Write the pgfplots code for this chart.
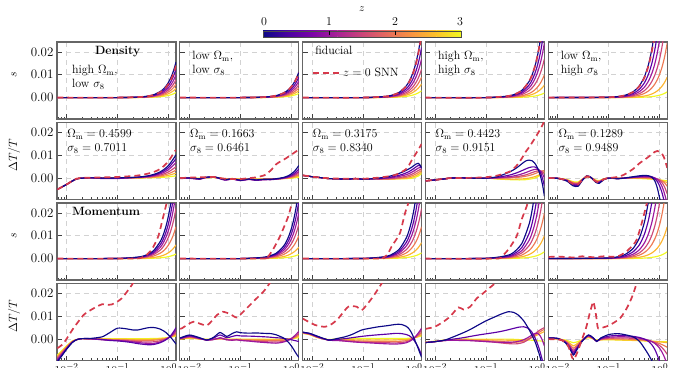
\documentclass[border=0pt]{standalone}
\usepackage{pgfplots}
\usepackage{pgfplotstable}
\pgfplotsset{compat=1.18}

\definecolor{c0}{RGB}{13,8,135}
\definecolor{c1}{RGB}{92,1,166}
\definecolor{c2}{RGB}{156,23,158}
\definecolor{c3}{RGB}{204,71,120}
\definecolor{c4}{RGB}{237,121,83}
\definecolor{c5}{RGB}{253,180,47}
\definecolor{c6}{RGB}{240,249,33}
\definecolor{p0}{RGB}{13,8,135}
\definecolor{p1}{RGB}{75,3,161}
\definecolor{p2}{RGB}{125,3,168}
\definecolor{p3}{RGB}{168,34,150}
\definecolor{p4}{RGB}{203,70,121}
\definecolor{p5}{RGB}{229,107,93}
\definecolor{p6}{RGB}{248,148,65}
\definecolor{p7}{RGB}{253,195,40}
\definecolor{p8}{RGB}{240,249,33}
\definecolor{snnred}{RGB}{214,57,75}
\newcommand\fs{\fontsize{12}{14}\selectfont}
\newcommand\xlab{$10^{\pgfmathparse{int(round(\tick/ln(10)))}\pgfmathresult}$}
\tikzset{zl/.style={line width=1.15pt, smooth, tension=0.4},
  snn/.style={color=snnred, line width=1.7pt, dash pattern=on 6pt off 4pt, smooth, tension=0.4}}
\pgfplotsset{legend image code/.code={\draw[#1] (0pt,0pt) -- (27pt,0pt);}}

\newcommand\bpanel[1]{\begin{axis}[
    scale only axis, width=119pt, height=77pt, anchor=north west,
    xmode=log, xmin=0.0065, xmax=1.4,
    ymin=-0.0094, ymax=0.0244,
    ytick={0,0.01,0.02}, yticklabels={}, xticklabels={},
    tick align=inside, xtick pos=left, ytick pos=left,
    major tick length=5pt, minor tick length=2.5pt,
    every tick/.style={black!75, line width=0.7pt},
    grid=major, major grid style={gray!35, dash pattern=on 5pt off 4pt, line width=0.7pt},
    axis line style={black!60, line width=1.1pt},
    no markers, clip=true, scaled y ticks=false,
    tick label style={font=\fontsize{13}{15}\selectfont},
    ylabel style={at={(axis description cs:-0.36,0.58)}, anchor=center, font=\fs},
    #1]}
\newcommand\fan[1]{%
  \addplot[c6,zl] table[y=g]{#1};
  \addplot[c5,zl] table[y=f]{#1};
  \addplot[c4,zl] table[y=e]{#1};
  \addplot[c3,zl] table[y=d]{#1};
  \addplot[c2,zl] table[y=c]{#1};
  \addplot[c1,zl] table[y=b]{#1};
  \addplot[c0,zl] table[y=a]{#1};}

% ---------- Row 1: density, s ----------
\pgfplotstableread{
x a b c d e f g r
0.0066 0 0 0 0 0 0 0 0
0.1 0 0 0 0 0 0 0 0
0.3 0.33e-3 0.27e-3 0.21e-3 0.17e-3 0.12e-3 0.09e-3 0.05e-3 0.30e-3
0.5 1.19e-3 0.95e-3 0.76e-3 0.59e-3 0.44e-3 0.30e-3 0.17e-3 1.07e-3
0.7 2.76e-3 2.21e-3 1.77e-3 1.38e-3 1.03e-3 0.71e-3 0.39e-3 2.48e-3
0.8 3.85e-3 3.09e-3 2.47e-3 1.93e-3 1.43e-3 0.99e-3 0.54e-3 3.46e-3
0.9 5.17e-3 4.14e-3 3.31e-3 2.58e-3 1.92e-3 1.33e-3 0.73e-3 4.64e-3
1.0 6.73e-3 5.39e-3 4.31e-3 3.36e-3 2.50e-3 1.72e-3 0.95e-3 6.04e-3
1.1 8.54e-3 6.84e-3 5.47e-3 4.27e-3 3.17e-3 2.19e-3 1.20e-3 7.66e-3
1.2 10.61e-3 8.50e-3 6.80e-3 5.31e-3 3.95e-3 2.72e-3 1.50e-3 9.52e-3
1.3 12.96e-3 10.39e-3 8.31e-3 6.48e-3 4.82e-3 3.32e-3 1.83e-3 11.63e-3
1.4 15.6e-3 12.5e-3 10.0e-3 7.8e-3 5.8e-3 4.0e-3 2.2e-3 14.0e-3
}\tsA
\pgfplotstableread{
x a b c d e f g r
0.0066 0 0 0 0 0 0 0 0
0.1 0 0 0 0 0 0 0 0
0.3 0.24e-3 0.19e-3 0.15e-3 0.12e-3 0.09e-3 0.06e-3 0.04e-3 0.23e-3
0.5 0.85e-3 0.69e-3 0.55e-3 0.43e-3 0.32e-3 0.23e-3 0.14e-3 0.84e-3
0.7 1.98e-3 1.59e-3 1.27e-3 0.99e-3 0.74e-3 0.53e-3 0.32e-3 1.94e-3
0.8 2.76e-3 2.22e-3 1.78e-3 1.38e-3 1.04e-3 0.74e-3 0.44e-3 2.71e-3
0.9 3.71e-3 2.98e-3 2.39e-3 1.86e-3 1.39e-3 0.99e-3 0.60e-3 3.65e-3
1.0 4.83e-3 3.88e-3 3.10e-3 2.41e-3 1.81e-3 1.29e-3 0.78e-3 4.74e-3
1.1 6.13e-3 4.92e-3 3.94e-3 3.06e-3 2.30e-3 1.64e-3 0.98e-3 6.02e-3
1.2 7.62e-3 6.12e-3 4.90e-3 3.81e-3 2.86e-3 2.04e-3 1.22e-3 7.48e-3
1.3 9.30e-3 7.48e-3 5.98e-3 4.65e-3 3.49e-3 2.49e-3 1.50e-3 9.14e-3
1.4 11.2e-3 9.0e-3 7.2e-3 5.6e-3 4.2e-3 3.0e-3 1.8e-3 11.0e-3
}\tsB
\pgfplotstableread{
x a b c d e f g r
0.0066 0 0 0 0 0 0 0 0
0.1 0 0 0 0 0 0 0 0
0.3 0.62e-3 0.47e-3 0.36e-3 0.27e-3 0.19e-3 0.13e-3 0.06e-3 0.60e-3
0.5 2.21e-3 1.68e-3 1.30e-3 0.95e-3 0.69e-3 0.46e-3 0.23e-3 2.13e-3
0.7 5.13e-3 3.89e-3 3.01e-3 2.21e-3 1.59e-3 1.06e-3 0.53e-3 4.95e-3
0.8 7.16e-3 5.43e-3 4.20e-3 3.09e-3 2.22e-3 1.48e-3 0.74e-3 6.91e-3
0.9 9.61e-3 7.29e-3 5.63e-3 4.14e-3 2.98e-3 1.99e-3 0.99e-3 9.28e-3
1.0 12.5e-3 9.49e-3 7.33e-3 5.39e-3 3.88e-3 2.59e-3 1.29e-3 12.07e-3
1.1 15.87e-3 12.04e-3 9.30e-3 6.84e-3 4.92e-3 3.28e-3 1.64e-3 15.32e-3
1.2 19.73e-3 14.96e-3 11.56e-3 8.50e-3 6.12e-3 4.08e-3 2.04e-3 19.05e-3
1.3 24.09e-3 18.28e-3 14.12e-3 10.39e-3 7.48e-3 4.98e-3 2.49e-3 23.26e-3
1.4 29.0e-3 22.0e-3 17.0e-3 12.5e-3 9.0e-3 6.0e-3 3.0e-3 28.0e-3
}\tsC
\pgfplotstableread{
x a b c d e f g r
0.0066 0 0 0 0 0 0 0 0
0.1 0 0 0 0 0 0 0 0
0.3 0.85e-3 0.66e-3 0.51e-3 0.36e-3 0.21e-3 0.12e-3 0.04e-3 0.85e-3
0.5 3.05e-3 2.36e-3 1.83e-3 1.30e-3 0.76e-3 0.42e-3 0.15e-3 3.05e-3
0.7 7.07e-3 5.48e-3 4.24e-3 3.01e-3 1.77e-3 0.97e-3 0.35e-3 7.07e-3
0.8 9.87e-3 7.65e-3 5.92e-3 4.20e-3 2.47e-3 1.36e-3 0.49e-3 9.87e-3
0.9 13.26e-3 10.27e-3 7.95e-3 5.63e-3 3.31e-3 1.82e-3 0.66e-3 13.26e-3
1.0 17.25e-3 13.37e-3 10.35e-3 7.33e-3 4.31e-3 2.37e-3 0.86e-3 17.25e-3
1.1 21.89e-3 16.96e-3 13.13e-3 9.30e-3 5.47e-3 3.01e-3 1.09e-3 21.89e-3
1.2 27.21e-3 21.09e-3 16.32e-3 11.56e-3 6.80e-3 3.74e-3 1.36e-3 27.21e-3
1.3 33.23e-3 25.75e-3 19.94e-3 14.12e-3 8.31e-3 4.57e-3 1.66e-3 33.23e-3
1.4 40.0e-3 31.0e-3 24.0e-3 17.0e-3 10.0e-3 5.5e-3 2.0e-3 40.0e-3
}\tsD
\pgfplotstableread{
x a b c d e f g r
0.0066 0 0 0 0 0 0 0 0
0.1 0.17e-3 0.12e-3 0.08e-3 0.06e-3 0.03e-3 0.01e-3 0 0.16e-3
0.2 0.92e-3 0.65e-3 0.46e-3 0.31e-3 0.18e-3 0.07e-3 0.02e-3 0.89e-3
0.3 2.56e-3 1.81e-3 1.28e-3 0.85e-3 0.51e-3 0.19e-3 0.05e-3 2.45e-3
0.4 5.23e-3 3.71e-3 2.62e-3 1.74e-3 1.05e-3 0.39e-3 0.11e-3 5.01e-3
0.5 9.14e-3 6.48e-3 4.57e-3 3.05e-3 1.83e-3 0.69e-3 0.19e-3 8.76e-3
0.6 14.44e-3 10.23e-3 7.22e-3 4.81e-3 2.89e-3 1.08e-3 0.30e-3 13.83e-3
0.7 21.2e-3 15.03e-3 10.61e-3 7.07e-3 4.24e-3 1.59e-3 0.44e-3 20.3e-3
0.8 29.6e-3 20.98e-3 14.81e-3 9.87e-3 5.92e-3 2.22e-3 0.62e-3 28.4e-3
0.9 39.8e-3 28.17e-3 19.88e-3 13.26e-3 7.95e-3 2.98e-3 0.83e-3 38.1e-3
1.0 51.7e-3 36.65e-3 25.87e-3 17.25e-3 10.35e-3 3.88e-3 1.08e-3 49.6e-3
1.1 65.7e-3 46.5e-3 32.8e-3 21.89e-3 13.13e-3 4.92e-3 1.37e-3 62.9e-3
1.2 81.6e-3 57.8e-3 40.8e-3 27.21e-3 16.32e-3 6.12e-3 1.70e-3 78.2e-3
1.3 99.7e-3 70.6e-3 49.8e-3 33.23e-3 19.94e-3 7.48e-3 2.08e-3 95.5e-3
1.4 120e-3 85e-3 60e-3 40e-3 24e-3 9e-3 2.5e-3 115e-3
}\tsE

% ---------- Row 2: density, Delta T/T ----------
\pgfplotstableread{
x a b c d e f g
0.0066 -5.0e-3 -5.0e-3 -5.0e-3 -5.0e-3 -5.0e-3 -5.0e-3 -5.0e-3
0.01 -2.8e-3 -2.8e-3 -2.8e-3 -2.8e-3 -2.8e-3 -2.8e-3 -2.8e-3
0.016 -0.3e-3 -0.3e-3 -0.3e-3 -0.3e-3 -0.3e-3 -0.3e-3 -0.3e-3
0.03 0.1e-3 0.1e-3 0.1e-3 0.1e-3 0.1e-3 0.1e-3 0.1e-3
0.05 0 -0.1e-3 -0.2e-3 -0.1e-3 0 0.1e-3 0.2e-3
0.1 0.1e-3 0 -0.2e-3 -0.1e-3 0 0.1e-3 0.2e-3
0.2 0.31e-3 0.26e-3 0.20e-3 0.15e-3 0.11e-3 0.07e-3 0.03e-3
0.3 0.61e-3 0.51e-3 0.41e-3 0.30e-3 0.21e-3 0.13e-3 0.06e-3
0.4 1.02e-3 0.85e-3 0.68e-3 0.50e-3 0.35e-3 0.22e-3 0.10e-3
0.5 1.53e-3 1.28e-3 1.02e-3 0.75e-3 0.53e-3 0.33e-3 0.15e-3
0.6 2.14e-3 1.79e-3 1.43e-3 1.05e-3 0.74e-3 0.46e-3 0.21e-3
0.7 2.86e-3 2.38e-3 1.90e-3 1.40e-3 0.98e-3 0.62e-3 0.28e-3
0.8 3.67e-3 3.06e-3 2.45e-3 1.80e-3 1.26e-3 0.79e-3 0.36e-3
0.9 4.59e-3 3.83e-3 3.06e-3 2.25e-3 1.58e-3 0.99e-3 0.45e-3
1.0 5.61e-3 4.68e-3 3.74e-3 2.75e-3 1.93e-3 1.21e-3 0.55e-3
1.1 6.73e-3 5.61e-3 4.49e-3 3.30e-3 2.31e-3 1.45e-3 0.66e-3
1.2 7.96e-3 6.63e-3 5.30e-3 3.90e-3 2.73e-3 1.72e-3 0.78e-3
1.3 9.08e-3 7.57e-3 6.05e-3 4.45e-3 3.12e-3 1.96e-3 0.89e-3
1.4 10.2e-3 8.5e-3 6.8e-3 5.0e-3 3.5e-3 2.2e-3 1.0e-3
}\tdA
\pgfplotstableread{
x a b c d e f g
0.0066 0 -0.1e-3 -0.2e-3 -0.1e-3 0 0 0
0.01 0.1e-3 0 -0.1e-3 0 0.1e-3 0.1e-3 0.1e-3
0.016 -0.3e-3 -0.4e-3 -0.5e-3 -0.4e-3 -0.3e-3 -0.2e-3 -0.1e-3
0.02 0.3e-3 0.2e-3 0.1e-3 0.2e-3 0.2e-3 0.2e-3 0.1e-3
0.03 0.6e-3 0.5e-3 0.4e-3 0.5e-3 0.4e-3 0.3e-3 0.2e-3
0.04 -0.1e-3 -0.2e-3 -0.3e-3 -0.2e-3 -0.1e-3 0 0
0.05 -0.7e-3 -0.8e-3 -0.9e-3 -0.7e-3 -0.5e-3 -0.4e-3 -0.3e-3
0.07 -0.3e-3 -0.4e-3 -0.5e-3 -0.4e-3 -0.3e-3 -0.2e-3 -0.2e-3
0.1 -0.9e-3 -1.0e-3 -1.1e-3 -0.9e-3 -0.6e-3 -0.5e-3 -0.4e-3
0.15 -0.4e-3 -0.5e-3 -0.6e-3 -0.5e-3 -0.4e-3 -0.3e-3 -0.3e-3
0.2 -0.8e-3 -0.9e-3 -1.0e-3 -0.8e-3 -0.6e-3 -0.5e-3 -0.4e-3
0.3 -0.5e-3 -0.6e-3 -0.7e-3 -0.6e-3 -0.4e-3 -0.4e-3 -0.3e-3
0.4 -0.5e-3 -0.6e-3 -0.7e-3 -0.5e-3 -0.4e-3 -0.3e-3 -0.3e-3
0.5 -0.3e-3 -0.4e-3 -0.5e-3 -0.4e-3 -0.3e-3 -0.3e-3 -0.3e-3
0.6 0 -0.2e-3 -0.3e-3 -0.3e-3 -0.25e-3 -0.25e-3 -0.27e-3
0.7 0.28e-3 0.1e-3 -0.1e-3 -0.1e-3 -0.15e-3 -0.2e-3 -0.23e-3
0.8 0.69e-3 0.43e-3 0.2e-3 0.1e-3 0 -0.1e-3 -0.18e-3
0.9 1.21e-3 0.82e-3 0.56e-3 0.35e-3 0.17e-3 0 -0.12e-3
1.0 1.85e-3 1.29e-3 0.92e-3 0.63e-3 0.37e-3 0.14e-3 -0.04e-3
1.1 2.6e-3 1.85e-3 1.35e-3 0.95e-3 0.6e-3 0.3e-3 0.05e-3
1.2 3.47e-3 2.5e-3 1.85e-3 1.33e-3 0.87e-3 0.48e-3 0.16e-3
1.3 4.46e-3 3.23e-3 2.41e-3 1.75e-3 1.18e-3 0.68e-3 0.27e-3
1.4 5.5e-3 4.0e-3 3.0e-3 2.2e-3 1.5e-3 0.9e-3 0.4e-3
}\tdB
\pgfplotstableread{
x a b c d e f g
0.0066 1.2e-3 1.2e-3 1.2e-3 1.2e-3 1.2e-3 1.2e-3 1.2e-3
0.01 0.6e-3 0.6e-3 0.6e-3 0.6e-3 0.6e-3 0.6e-3 0.6e-3
0.016 0.1e-3 0.1e-3 0.1e-3 0.1e-3 0.1e-3 0.1e-3 0.1e-3
0.02 -0.2e-3 -0.2e-3 -0.2e-3 -0.2e-3 -0.2e-3 -0.2e-3 -0.2e-3
0.03 -0.3e-3 -0.3e-3 -0.3e-3 -0.3e-3 -0.3e-3 -0.3e-3 -0.3e-3
0.05 -0.5e-3 -0.5e-3 -0.5e-3 -0.5e-3 -0.5e-3 -0.5e-3 -0.5e-3
0.07 -0.2e-3 -0.2e-3 -0.2e-3 -0.2e-3 -0.2e-3 -0.2e-3 -0.2e-3
0.1 -0.5e-3 -0.5e-3 -0.5e-3 -0.5e-3 -0.5e-3 -0.5e-3 -0.5e-3
0.15 -0.3e-3 -0.3e-3 -0.3e-3 -0.3e-3 -0.3e-3 -0.3e-3 -0.3e-3
0.2 0 -0.2e-3 -0.3e-3 -0.4e-3 -0.4e-3 -0.4e-3 -0.3e-3
0.3 0.6e-3 0.2e-3 0 -0.3e-3 -0.4e-3 -0.4e-3 -0.3e-3
0.4 1.3e-3 0.7e-3 0.3e-3 -0.1e-3 -0.3e-3 -0.4e-3 -0.3e-3
0.5 2.0e-3 1.2e-3 0.7e-3 0.2e-3 -0.1e-3 -0.3e-3 -0.3e-3
0.6 2.7e-3 1.7e-3 1.1e-3 0.5e-3 0.1e-3 -0.2e-3 -0.3e-3
0.7 3.4e-3 2.3e-3 1.5e-3 0.8e-3 0.3e-3 -0.1e-3 -0.3e-3
0.8 4.1e-3 2.9e-3 2.0e-3 1.2e-3 0.6e-3 0.1e-3 -0.2e-3
0.9 4.8e-3 3.6e-3 2.6e-3 1.7e-3 1.0e-3 0.4e-3 -0.1e-3
1.0 5.6e-3 4.3e-3 3.2e-3 2.2e-3 1.4e-3 0.7e-3 0.2e-3
1.1 6.2e-3 5.0e-3 3.8e-3 2.8e-3 1.9e-3 1.1e-3 0.5e-3
1.2 6.5e-3 5.5e-3 4.4e-3 3.3e-3 2.4e-3 1.6e-3 0.9e-3
1.3 5.8e-3 5.4e-3 4.6e-3 3.7e-3 2.9e-3 2.1e-3 1.4e-3
1.4 4.4e-3 4.6e-3 4.4e-3 3.8e-3 3.3e-3 2.7e-3 2.0e-3
}\tdC
\pgfplotstableread{
x a b c d e f g
0.0066 -1.2e-3 -1.2e-3 -1.2e-3 -1.2e-3 -1.2e-3 -1.2e-3 -1.2e-3
0.01 -0.8e-3 -0.8e-3 -0.8e-3 -0.8e-3 -0.8e-3 -0.8e-3 -0.8e-3
0.016 -0.3e-3 -0.3e-3 -0.3e-3 -0.3e-3 -0.3e-3 -0.3e-3 -0.3e-3
0.02 0 0 0 0 0 0 0
0.03 0.1e-3 0.1e-3 0.1e-3 0.1e-3 0.1e-3 0.1e-3 0.1e-3
0.05 0 0 0 0 0 0 0
0.07 -0.1e-3 -0.1e-3 -0.1e-3 -0.1e-3 -0.1e-3 -0.1e-3 -0.1e-3
0.1 0 0 0 0 0 0 0
0.15 0.4e-3 0.2e-3 0.1e-3 0 0 -0.2e-3 -0.3e-3
0.2 1.2e-3 0.6e-3 0.3e-3 0.1e-3 0 -0.4e-3 -0.5e-3
0.3 2.8e-3 1.4e-3 0.7e-3 0.3e-3 0.1e-3 -0.5e-3 -0.7e-3
0.4 4.5e-3 2.3e-3 1.2e-3 0.6e-3 0.3e-3 -0.5e-3 -0.8e-3
0.5 6.2e-3 3.2e-3 1.8e-3 1.0e-3 0.5e-3 -0.4e-3 -0.8e-3
0.6 7.5e-3 4.0e-3 2.4e-3 1.4e-3 0.8e-3 -0.2e-3 -0.7e-3
0.7 7.9e-3 4.6e-3 3.0e-3 1.9e-3 1.1e-3 0 -0.5e-3
0.8 7.6e-3 4.9e-3 3.5e-3 2.4e-3 1.5e-3 0.3e-3 -0.3e-3
0.9 6.6e-3 4.9e-3 3.8e-3 2.8e-3 1.9e-3 0.6e-3 0
1.0 5.0e-3 4.4e-3 3.9e-3 3.1e-3 2.3e-3 1.0e-3 0.4e-3
1.1 2.8e-3 3.4e-3 3.6e-3 3.2e-3 2.7e-3 1.4e-3 0.9e-3
1.2 0 1.8e-3 2.9e-3 3.1e-3 3.0e-3 1.9e-3 1.4e-3
1.3 -3.5e-3 -0.5e-3 1.7e-3 2.7e-3 3.2e-3 2.4e-3 2.0e-3
1.4 -8.0e-3 -3.5e-3 0 2.0e-3 3.3e-3 2.9e-3 2.5e-3
}\tdD
\pgfplotstableread{
x a b c d e f g
0.0066 0 0 0 0 0 0 0
0.01 -0.13e-3 -0.1e-3 -0.1e-3 -0.1e-3 -0.1e-3 -0.1e-3 -0.1e-3
0.015 -1.3e-3 -1.15e-3 -1.0e-3 -0.9e-3 -0.8e-3 -0.7e-3 -0.6e-3
0.02 -3.4e-3 -3.0e-3 -2.6e-3 -2.3e-3 -2.1e-3 -1.8e-3 -1.6e-3
0.025 -3.6e-3 -3.2e-3 -2.8e-3 -2.5e-3 -2.2e-3 -2.0e-3 -1.7e-3
0.03 -1.2e-3 -1.0e-3 -0.9e-3 -0.8e-3 -0.7e-3 -0.6e-3 -0.5e-3
0.037 1.0e-3 0.9e-3 0.8e-3 0.7e-3 0.6e-3 0.6e-3 0.5e-3
0.045 0.3e-3 0.2e-3 0.2e-3 0.2e-3 0.2e-3 0.1e-3 0.1e-3
0.055 -1.8e-3 -1.6e-3 -1.4e-3 -1.3e-3 -1.1e-3 -1.0e-3 -0.8e-3
0.065 -2.3e-3 -2.1e-3 -1.8e-3 -1.6e-3 -1.4e-3 -1.3e-3 -1.1e-3
0.08 -0.7e-3 -0.6e-3 -0.5e-3 -0.5e-3 -0.4e-3 -0.4e-3 -0.3e-3
0.1 0 0 0 0 0 0 0
0.15 -0.3e-3 -0.2e-3 -0.2e-3 -0.2e-3 -0.2e-3 -0.1e-3 -0.1e-3
0.2 0 0 0 0 0 0 0
0.3 0.6e-3 0.4e-3 0.3e-3 0.2e-3 0.1e-3 0 -0.1e-3
0.4 1.0e-3 0.7e-3 0.5e-3 0.3e-3 0.1e-3 0 -0.2e-3
0.5 1.2e-3 0.9e-3 0.6e-3 0.3e-3 0.1e-3 -0.1e-3 -0.3e-3
0.6 1.0e-3 0.9e-3 0.6e-3 0.3e-3 0 -0.2e-3 -0.4e-3
0.7 0.3e-3 0.6e-3 0.5e-3 0.2e-3 -0.1e-3 -0.3e-3 -0.5e-3
0.8 -1.2e-3 -0.2e-3 0.1e-3 0 -0.3e-3 -0.5e-3 -0.6e-3
0.9 -4.5e-3 -1.6e-3 -0.6e-3 -0.4e-3 -0.5e-3 -0.7e-3 -0.7e-3
1.0 -9.0e-3 -3.6e-3 -1.8e-3 -1.0e-3 -0.8e-3 -0.9e-3 -0.8e-3
1.1 -13e-3 -6.2e-3 -3.5e-3 -1.9e-3 -1.2e-3 -1.1e-3 -0.9e-3
1.2 -17e-3 -9.5e-3 -5.8e-3 -3.2e-3 -1.8e-3 -1.4e-3 -1.0e-3
1.3 -21e-3 -13e-3 -8.5e-3 -4.9e-3 -2.6e-3 -1.7e-3 -1.1e-3
1.4 -25e-3 -17e-3 -11.5e-3 -7.0e-3 -3.6e-3 -2.0e-3 -1.2e-3
}\tdE

% ---------- Row 3: momentum, s ----------
\pgfplotstableread{
x a b c d e f g
0.0066 0 0 0 0 0 0 0
0.1 0.06e-3 0.05e-3 0.04e-3 0.03e-3 0.02e-3 0.01e-3 0
0.3 0.94e-3 0.77e-3 0.62e-3 0.47e-3 0.30e-3 0.13e-3 0.04e-3
0.5 3.35e-3 2.74e-3 2.21e-3 1.68e-3 1.07e-3 0.46e-3 0.15e-3
0.7 7.78e-3 6.36e-3 5.13e-3 3.89e-3 2.48e-3 1.06e-3 0.35e-3
0.8 10.86e-3 8.88e-3 7.16e-3 5.43e-3 3.46e-3 1.48e-3 0.49e-3
0.9 14.58e-3 11.93e-3 9.61e-3 7.29e-3 4.64e-3 1.99e-3 0.66e-3
1.0 18.97e-3 15.52e-3 12.50e-3 9.49e-3 6.04e-3 2.59e-3 0.86e-3
1.1 24.08e-3 19.70e-3 15.87e-3 12.04e-3 7.66e-3 3.28e-3 1.09e-3
1.2 29.93e-3 24.49e-3 19.73e-3 14.96e-3 9.52e-3 4.08e-3 1.36e-3
1.3 36.56e-3 29.91e-3 24.09e-3 18.28e-3 11.63e-3 4.98e-3 1.66e-3
1.4 44e-3 36e-3 29e-3 22e-3 14e-3 6e-3 2e-3
}\tmA
\pgfplotstableread{
x a b c d e f g
0.0066 0 0 0 0 0 0 0
0.1 0 0 0 0 0 0 0
0.3 0.65e-3 0.53e-3 0.43e-3 0.32e-3 0.21e-3 0.11e-3 0.04e-3
0.5 2.32e-3 1.91e-3 1.52e-3 1.14e-3 0.76e-3 0.38e-3 0.14e-3
0.7 5.39e-3 4.42e-3 3.54e-3 2.65e-3 1.77e-3 0.88e-3 0.32e-3
0.8 7.53e-3 6.17e-3 4.94e-3 3.70e-3 2.47e-3 1.23e-3 0.44e-3
0.9 10.11e-3 8.29e-3 6.63e-3 4.97e-3 3.31e-3 1.66e-3 0.60e-3
1.0 13.15e-3 10.78e-3 8.62e-3 6.47e-3 4.31e-3 2.16e-3 0.78e-3
1.1 16.69e-3 13.68e-3 10.94e-3 8.21e-3 5.47e-3 2.74e-3 0.98e-3
1.2 20.75e-3 17.01e-3 13.60e-3 10.20e-3 6.80e-3 3.40e-3 1.22e-3
1.3 25.34e-3 20.77e-3 16.62e-3 12.46e-3 8.31e-3 4.15e-3 1.50e-3
1.4 30.5e-3 25e-3 20e-3 15e-3 10e-3 5e-3 1.8e-3
}\tmB
\pgfplotstableread{
x a b c d e f g
0.0066 0 0 0 0 0 0 0
0.1 0.07e-3 0.06e-3 0.04e-3 0.03e-3 0.02e-3 0.01e-3 0
0.3 1.09e-3 0.85e-3 0.66e-3 0.47e-3 0.30e-3 0.15e-3 0.05e-3
0.5 3.89e-3 3.05e-3 2.36e-3 1.68e-3 1.07e-3 0.53e-3 0.19e-3
0.7 9.02e-3 7.07e-3 5.48e-3 3.89e-3 2.48e-3 1.24e-3 0.44e-3
0.8 12.59e-3 9.87e-3 7.65e-3 5.43e-3 3.46e-3 1.73e-3 0.62e-3
0.9 16.90e-3 13.26e-3 10.27e-3 7.29e-3 4.64e-3 2.32e-3 0.83e-3
1.0 21.99e-3 17.25e-3 13.37e-3 9.49e-3 6.04e-3 3.02e-3 1.08e-3
1.1 27.91e-3 21.89e-3 16.96e-3 12.04e-3 7.66e-3 3.83e-3 1.37e-3
1.2 34.69e-3 27.21e-3 21.09e-3 14.96e-3 9.52e-3 4.76e-3 1.70e-3
1.3 42.37e-3 33.23e-3 25.75e-3 18.28e-3 11.63e-3 5.82e-3 2.08e-3
1.4 51e-3 40e-3 31e-3 22e-3 14e-3 7e-3 2.5e-3
}\tmC
\pgfplotstableread{
x a b c d e f g
0.0066 0 0 0 0 0 0 0
0.1 0.12e-3 0.09e-3 0.06e-3 0.04e-3 0.03e-3 0.01e-3 0
0.3 1.81e-3 1.32e-3 0.96e-3 0.68e-3 0.43e-3 0.21e-3 0.06e-3
0.5 6.48e-3 4.72e-3 3.43e-3 2.44e-3 1.52e-3 0.76e-3 0.23e-3
0.7 15.03e-3 10.96e-3 7.96e-3 5.66e-3 3.54e-3 1.77e-3 0.53e-3
0.8 20.98e-3 15.30e-3 11.11e-3 7.90e-3 4.94e-3 2.47e-3 0.74e-3
0.9 28.17e-3 20.55e-3 14.91e-3 10.60e-3 6.63e-3 3.31e-3 0.99e-3
1.0 36.65e-3 26.73e-3 19.40e-3 13.80e-3 8.62e-3 4.31e-3 1.29e-3
1.1 46.51e-3 33.93e-3 24.62e-3 17.51e-3 10.94e-3 5.47e-3 1.64e-3
1.2 57.82e-3 42.17e-3 30.61e-3 21.77e-3 13.60e-3 6.80e-3 2.04e-3
1.3 70.62e-3 51.51e-3 37.39e-3 26.59e-3 16.62e-3 8.31e-3 2.49e-3
1.4 85e-3 62e-3 45e-3 32e-3 20e-3 10e-3 3e-3
}\tmD
\pgfplotstableread{
x a b c d e f g
0.0066 0 0 0 0 0 0 0
0.1 0.29e-3 0.20e-3 0.13e-3 0.08e-3 0.05e-3 0.02e-3 0
0.2 1.61e-3 1.08e-3 0.69e-3 0.45e-3 0.27e-3 0.11e-3 0.02e-3
0.3 4.45e-3 2.98e-3 1.92e-3 1.24e-3 0.75e-3 0.30e-3 0.06e-3
0.4 9.11e-3 6.10e-3 3.92e-3 2.53e-3 1.53e-3 0.61e-3 0.13e-3
0.5 15.93e-3 10.67e-3 6.86e-3 4.42e-3 2.67e-3 1.07e-3 0.23e-3
0.6 25.1e-3 16.84e-3 10.83e-3 6.98e-3 4.21e-3 1.68e-3 0.36e-3
0.7 36.95e-3 24.75e-3 15.91e-3 10.25e-3 6.19e-3 2.48e-3 0.53e-3
0.8 51.58e-3 34.55e-3 22.21e-3 14.31e-3 8.64e-3 3.46e-3 0.74e-3
0.9 69.3e-3 46.4e-3 29.83e-3 19.22e-3 11.60e-3 4.64e-3 0.99e-3
1.0 90.1e-3 60.4e-3 38.81e-3 25.01e-3 15.09e-3 6.04e-3 1.29e-3
1.1 114.4e-3 76.6e-3 49.25e-3 31.74e-3 19.15e-3 7.66e-3 1.64e-3
1.2 142.2e-3 95.2e-3 61.22e-3 39.45e-3 23.81e-3 9.52e-3 2.04e-3
1.3 173.6e-3 116.3e-3 74.77e-3 48.19e-3 29.08e-3 11.63e-3 2.49e-3
1.4 209e-3 140e-3 90e-3 58e-3 35e-3 14e-3 3e-3
}\tmE

% ---------- Row 4: momentum, Delta T/T ----------
\pgfplotstableread{
x a b c d e f g
0.0066 -10e-3 -9.5e-3 -9e-3 -8.5e-3 -8e-3 -7.5e-3 -7e-3
0.008 -7.5e-3 -7.2e-3 -6.8e-3 -6.4e-3 -6.0e-3 -5.6e-3 -5.2e-3
0.01 -4.5e-3 -4.3e-3 -4.1e-3 -3.9e-3 -3.6e-3 -3.3e-3 -3.0e-3
0.013 -1.5e-3 -1.4e-3 -1.3e-3 -1.2e-3 -1.1e-3 -1.0e-3 -0.8e-3
0.016 -0.2e-3 -0.2e-3 -0.2e-3 -0.2e-3 -0.2e-3 -0.2e-3 -0.2e-3
0.02 0.2e-3 0.2e-3 0.2e-3 0.2e-3 0.2e-3 0.2e-3 0.2e-3
0.03 0.3e-3 0.2e-3 0.1e-3 0 0 0.1e-3 0.2e-3
0.05 1.0e-3 -0.2e-3 -0.3e-3 -0.2e-3 -0.1e-3 0 0.2e-3
0.07 2.8e-3 -0.6e-3 -0.5e-3 -0.4e-3 -0.2e-3 -0.1e-3 0.2e-3
0.1 4.8e-3 -0.8e-3 -0.6e-3 -0.5e-3 -0.3e-3 -0.1e-3 0.2e-3
0.15 4.5e-3 -1.2e-3 -0.9e-3 -0.7e-3 -0.4e-3 -0.1e-3 0.2e-3
0.2 4.0e-3 -1.6e-3 -1.2e-3 -0.9e-3 -0.5e-3 -0.2e-3 0.2e-3
0.25 4.0e-3 -2.0e-3 -1.5e-3 -1.1e-3 -0.6e-3 -0.2e-3 0.2e-3
0.3 4.4e-3 -2.2e-3 -1.7e-3 -1.2e-3 -0.6e-3 -0.2e-3 0.2e-3
0.4 5.0e-3 -2.5e-3 -1.9e-3 -1.3e-3 -0.6e-3 -0.2e-3 0.2e-3
0.5 5.1e-3 -2.4e-3 -1.9e-3 -1.2e-3 -0.5e-3 -0.1e-3 0.3e-3
0.6 4.8e-3 -2.0e-3 -1.6e-3 -1.0e-3 -0.4e-3 0 0.3e-3
0.7 4.3e-3 -1.5e-3 -1.2e-3 -0.7e-3 -0.2e-3 0.1e-3 0.4e-3
0.8 3.6e-3 -0.9e-3 -0.7e-3 -0.3e-3 0 0.2e-3 0.5e-3
0.9 2.8e-3 -0.2e-3 -0.1e-3 0.1e-3 0.3e-3 0.4e-3 0.6e-3
1.0 1.8e-3 0.6e-3 0.5e-3 0.6e-3 0.6e-3 0.6e-3 0.7e-3
1.1 0.8e-3 1.5e-3 1.2e-3 1.1e-3 1.0e-3 0.9e-3 0.9e-3
1.2 -0.2e-3 2.6e-3 2.0e-3 1.7e-3 1.4e-3 1.2e-3 1.0e-3
1.3 -1.2e-3 3.8e-3 3.0e-3 2.4e-3 1.9e-3 1.5e-3 1.2e-3
1.4 -2.2e-3 5.0e-3 4.0e-3 3.1e-3 2.4e-3 1.8e-3 1.4e-3
}\tpA
\pgfplotstableread{
x a b c d e f g
0.0066 0.5e-3 0.3e-3 0.2e-3 0.1e-3 0.1e-3 0 0
0.01 1.8e-3 1.5e-3 1.2e-3 1.0e-3 0.8e-3 0.5e-3 0.3e-3
0.015 0.8e-3 0.6e-3 0.4e-3 0.3e-3 0.2e-3 0.1e-3 0.1e-3
0.022 -0.4e-3 -0.4e-3 -0.5e-3 -0.4e-3 -0.3e-3 -0.2e-3 -0.1e-3
0.03 0.8e-3 0.5e-3 -0.2e-3 -0.2e-3 -0.1e-3 0 0
0.04 2.9e-3 1.8e-3 0.6e-3 0.4e-3 0.3e-3 0.2e-3 0.1e-3
0.054 1.2e-3 0.6e-3 -0.3e-3 -0.3e-3 -0.2e-3 -0.1e-3 0
0.07 2.5e-3 1.2e-3 -0.5e-3 -0.4e-3 -0.3e-3 -0.1e-3 0
0.085 3.2e-3 1.6e-3 -0.3e-3 -0.3e-3 -0.2e-3 -0.1e-3 0
0.1 2.8e-3 1.4e-3 -0.6e-3 -0.5e-3 -0.3e-3 -0.1e-3 0
0.15 2.6e-3 1.3e-3 -0.9e-3 -0.7e-3 -0.4e-3 -0.2e-3 0
0.2 2.7e-3 1.2e-3 -1.2e-3 -0.9e-3 -0.5e-3 -0.2e-3 0
0.3 2.5e-3 1.0e-3 -1.5e-3 -1.1e-3 -0.6e-3 -0.2e-3 0
0.4 2.4e-3 0.8e-3 -1.7e-3 -1.3e-3 -0.7e-3 -0.3e-3 0
0.5 1.9e-3 0.6e-3 -1.8e-3 -1.3e-3 -0.7e-3 -0.3e-3 0
0.6 1.2e-3 0.5e-3 -1.6e-3 -1.2e-3 -0.6e-3 -0.2e-3 0
0.7 0.5e-3 0.3e-3 -1.3e-3 -1.0e-3 -0.5e-3 -0.2e-3 0
0.8 -0.5e-3 0.1e-3 -0.9e-3 -0.7e-3 -0.3e-3 -0.1e-3 0.1e-3
0.9 -1.7e-3 -0.1e-3 -0.4e-3 -0.3e-3 -0.1e-3 0 0.1e-3
1.0 -3.0e-3 -0.3e-3 0.3e-3 0.2e-3 0.2e-3 0.2e-3 0.2e-3
1.1 -4.4e-3 -0.5e-3 1.0e-3 0.7e-3 0.5e-3 0.4e-3 0.3e-3
1.2 -5.8e-3 -0.7e-3 1.8e-3 1.3e-3 0.9e-3 0.6e-3 0.4e-3
1.3 -7.0e-3 -0.9e-3 2.6e-3 1.9e-3 1.3e-3 0.9e-3 0.5e-3
1.4 -8.0e-3 -1.0e-3 3.4e-3 2.6e-3 1.8e-3 1.2e-3 0.7e-3
}\tpB
\pgfplotstableread{
x a b c d e f g
0.0066 3.0e-3 3.0e-3 2.9e-3 2.8e-3 2.7e-3 2.6e-3 2.5e-3
0.009 2.5e-3 2.4e-3 2.3e-3 2.2e-3 2.1e-3 2.0e-3 1.9e-3
0.013 1.2e-3 1.0e-3 0.9e-3 0.8e-3 0.7e-3 0.7e-3 0.6e-3
0.021 -0.4e-3 -0.4e-3 -0.5e-3 -0.4e-3 -0.4e-3 -0.3e-3 -0.2e-3
0.03 0.2e-3 -0.2e-3 -0.6e-3 -0.5e-3 -0.4e-3 -0.2e-3 0.1e-3
0.044 1.0e-3 0.2e-3 -0.9e-3 -0.8e-3 -0.6e-3 -0.3e-3 0.2e-3
0.06 2.0e-3 0.6e-3 -1.2e-3 -1.0e-3 -0.7e-3 -0.3e-3 0.2e-3
0.094 4.0e-3 1.2e-3 -1.5e-3 -1.3e-3 -0.9e-3 -0.4e-3 0.3e-3
0.14 4.8e-3 1.6e-3 -1.7e-3 -1.4e-3 -1.0e-3 -0.4e-3 0.3e-3
0.2 5.4e-3 1.9e-3 -1.9e-3 -1.5e-3 -1.0e-3 -0.4e-3 0.3e-3
0.3 5.9e-3 2.2e-3 -2.1e-3 -1.6e-3 -1.1e-3 -0.4e-3 0.3e-3
0.42 6.4e-3 2.5e-3 -2.2e-3 -1.7e-3 -1.1e-3 -0.4e-3 0.3e-3
0.5 6.5e-3 2.5e-3 -2.1e-3 -1.6e-3 -1.0e-3 -0.3e-3 0.3e-3
0.57 6.4e-3 2.4e-3 -2.0e-3 -1.5e-3 -0.9e-3 -0.3e-3 0.3e-3
0.7 5.6e-3 2.0e-3 -1.6e-3 -1.2e-3 -0.7e-3 -0.2e-3 0.3e-3
0.8 4.4e-3 1.5e-3 -1.1e-3 -0.8e-3 -0.4e-3 0 0.4e-3
0.9 2.5e-3 0.6e-3 -0.4e-3 -0.2e-3 0 0.2e-3 0.5e-3
1.0 0.2e-3 -0.6e-3 0.5e-3 0.5e-3 0.5e-3 0.5e-3 0.6e-3
1.1 -2.0e-3 -2.0e-3 1.5e-3 1.2e-3 1.0e-3 0.8e-3 0.8e-3
1.2 -4.1e-3 -3.6e-3 2.6e-3 2.0e-3 1.6e-3 1.2e-3 1.0e-3
1.3 -6.2e-3 -5.3e-3 3.7e-3 2.9e-3 2.2e-3 1.6e-3 1.2e-3
1.4 -8.0e-3 -7.0e-3 4.8e-3 3.8e-3 2.8e-3 2.0e-3 1.4e-3
}\tpC
\pgfplotstableread{
x a b c d e f g
0.0066 -1.5e-3 -1.5e-3 -1.5e-3 -1.5e-3 -1.5e-3 -1.4e-3 -1.3e-3
0.0093 -1.2e-3 -1.2e-3 -1.2e-3 -1.2e-3 -1.2e-3 -1.1e-3 -1.0e-3
0.0158 -0.4e-3 -0.5e-3 -0.6e-3 -0.6e-3 -0.6e-3 -0.5e-3 -0.4e-3
0.0336 2.5e-3 0.5e-3 -0.6e-3 -0.5e-3 -0.4e-3 -0.2e-3 0
0.05 4.3e-3 1.2e-3 -0.7e-3 -0.6e-3 -0.5e-3 -0.2e-3 0
0.071 6.2e-3 1.8e-3 -0.9e-3 -0.8e-3 -0.6e-3 -0.3e-3 0
0.1 8.0e-3 2.3e-3 -1.1e-3 -1.0e-3 -0.7e-3 -0.3e-3 0
0.151 9.8e-3 2.9e-3 -1.3e-3 -1.4e-3 -0.9e-3 -0.4e-3 0
0.2 11.0e-3 3.4e-3 -1.4e-3 -1.7e-3 -1.1e-3 -0.4e-3 0
0.275 12.0e-3 4.1e-3 -1.4e-3 -2.0e-3 -1.3e-3 -0.5e-3 0
0.35 11.7e-3 4.7e-3 -1.3e-3 -2.1e-3 -1.4e-3 -0.5e-3 -0.1e-3
0.433 10.5e-3 5.2e-3 -1.0e-3 -2.0e-3 -1.3e-3 -0.5e-3 -0.2e-3
0.55 8.0e-3 5.4e-3 -0.3e-3 -1.4e-3 -0.9e-3 -0.3e-3 -0.3e-3
0.68 4.7e-3 4.7e-3 0.8e-3 -0.2e-3 -0.1e-3 0.2e-3 -0.4e-3
0.8 1.6e-3 3.0e-3 1.8e-3 1.0e-3 0.8e-3 0.7e-3 -0.5e-3
0.92 -1.2e-3 0.5e-3 2.5e-3 2.2e-3 1.7e-3 1.3e-3 -0.6e-3
1.0 -3.5e-3 -1.5e-3 2.6e-3 3.0e-3 2.3e-3 1.7e-3 -0.7e-3
1.08 -5.8e-3 -3.5e-3 2.2e-3 3.6e-3 2.8e-3 2.1e-3 -0.8e-3
1.15 -7.8e-3 -5.5e-3 1.5e-3 4.0e-3 3.2e-3 2.4e-3 -0.8e-3
1.25 -11e-3 -8.5e-3 0 4.5e-3 3.7e-3 2.8e-3 -0.9e-3
1.4 -16e-3 -13e-3 -3e-3 5.0e-3 4.3e-3 3.3e-3 -1.0e-3
}\tpD
\pgfplotstableread{
x a b c d e f g
0.0066 0.5e-3 0.5e-3 0.4e-3 0.4e-3 0.3e-3 0.3e-3 0.2e-3
0.01 0.3e-3 0.3e-3 0.2e-3 0.2e-3 0.1e-3 0.1e-3 0
0.014 -1.5e-3 -1.4e-3 -1.2e-3 -1.0e-3 -0.8e-3 -0.6e-3 -0.4e-3
0.017 -4.0e-3 -3.6e-3 -3.2e-3 -2.8e-3 -2.3e-3 -1.7e-3 -1.0e-3
0.0202 -7.0e-3 -6.3e-3 -5.6e-3 -4.9e-3 -4.0e-3 -3.0e-3 -1.6e-3
0.024 -4.5e-3 -4.0e-3 -3.6e-3 -3.2e-3 -2.7e-3 -2.0e-3 -1.2e-3
0.03 -1.0e-3 -0.9e-3 -0.8e-3 -0.7e-3 -0.6e-3 -0.5e-3 -0.3e-3
0.0398 1.8e-3 1.7e-3 1.5e-3 1.3e-3 1.1e-3 0.9e-3 0.6e-3
0.05 0.5e-3 0.4e-3 0.3e-3 0.2e-3 0.1e-3 0.1e-3 0.1e-3
0.058 -1.0e-3 -1.0e-3 -1.0e-3 -0.9e-3 -0.8e-3 -0.6e-3 -0.4e-3
0.07 0.5e-3 0.3e-3 0.1e-3 -0.1e-3 -0.2e-3 -0.3e-3 -0.3e-3
0.1 2.0e-3 1.3e-3 0.8e-3 0.4e-3 0.1e-3 -0.2e-3 -0.3e-3
0.15 2.4e-3 1.6e-3 1.0e-3 0.5e-3 0.1e-3 -0.3e-3 -0.4e-3
0.2 2.0e-3 1.5e-3 1.0e-3 0.5e-3 0 -0.4e-3 -0.5e-3
0.3 1.0e-3 1.2e-3 0.8e-3 0.3e-3 -0.1e-3 -0.5e-3 -0.6e-3
0.4 -1.0e-3 0.7e-3 0.4e-3 0 -0.3e-3 -0.6e-3 -0.7e-3
0.5 -4.0e-3 0 0 -0.3e-3 -0.5e-3 -0.7e-3 -0.8e-3
0.6 -6.8e-3 -1.0e-3 -0.5e-3 -0.7e-3 -0.7e-3 -0.8e-3 -0.9e-3
0.7 -9.5e-3 -2.5e-3 -1.1e-3 -1.1e-3 -1.0e-3 -0.9e-3 -1.0e-3
0.8 -12e-3 -4.5e-3 -1.9e-3 -1.6e-3 -1.3e-3 -1.0e-3 -1.0e-3
0.9 -15e-3 -7.2e-3 -2.9e-3 -2.2e-3 -1.6e-3 -1.1e-3 -1.1e-3
1.0 -18e-3 -10e-3 -4.1e-3 -2.9e-3 -2.0e-3 -1.2e-3 -1.1e-3
1.1 -21e-3 -13e-3 -5.6e-3 -3.7e-3 -2.4e-3 -1.3e-3 -1.2e-3
1.2 -24e-3 -16e-3 -7.3e-3 -4.6e-3 -2.8e-3 -1.4e-3 -1.2e-3
1.3 -27e-3 -19e-3 -9.2e-3 -5.6e-3 -3.2e-3 -1.5e-3 -1.2e-3
1.4 -30e-3 -22e-3 -11e-3 -6.7e-3 -3.6e-3 -1.6e-3 -1.2e-3
}\tpE

\begin{document}
\begin{tikzpicture}
% ===== colorbar (decoration) =====
\shade[left color=p0, right color=p1] (263pt,330pt) rectangle (288pt,336pt);
\shade[left color=p1, right color=p2] (287.75pt,330pt) rectangle (312.75pt,336pt);
\shade[left color=p2, right color=p3] (312.5pt,330pt) rectangle (337.5pt,336pt);
\shade[left color=p3, right color=p4] (337.25pt,330pt) rectangle (362.25pt,336pt);
\shade[left color=p4, right color=p5] (362pt,330pt) rectangle (387pt,336pt);
\shade[left color=p5, right color=p6] (386.75pt,330pt) rectangle (411.75pt,336pt);
\shade[left color=p6, right color=p7] (411.5pt,330pt) rectangle (436.5pt,336pt);
\shade[left color=p7, right color=p8] (436.25pt,330pt) rectangle (461pt,336pt);
\draw[black!70, line width=0.6pt] (263pt,330pt) rectangle (461pt,336pt);
\draw[black, line width=0.9pt] (329pt,336pt) -- (329pt,332pt) (395pt,336pt) -- (395pt,332pt);
\node[font=\fs, anchor=base] at (264pt,341pt) {0};
\node[font=\fs, anchor=base] at (329pt,341pt) {1};
\node[font=\fs, anchor=base] at (395pt,341pt) {2};
\node[font=\fs, anchor=base] at (460pt,341pt) {3};
\node[font=\fontsize{11}{13}\selectfont, anchor=base] at (362pt,355pt) {$z$};

% ===== Row 1 =====
\bpanel{yticklabels={0.00,0.01,0.02}, at={(57pt,325pt)}, ylabel={$s$}}
\fan{\tsA}
\addplot[snn] table[y=r]{\tsA};
\node[anchor=north, inner sep=0pt, font=\fs\bfseries] at (rel axis cs:0.51,0.95) {Density};
\node[anchor=north west, align=left, inner sep=0pt, font=\fs] at (rel axis cs:0.125,0.70) {high $\Omega_\mathrm{m}$,\\low $\sigma_8$};
\end{axis}
\bpanel{at={(179.8pt,325pt)}}
\fan{\tsB}
\addplot[snn] table[y=r]{\tsB};
\node[anchor=north west, align=left, inner sep=0pt, font=\fs] at (rel axis cs:0.105,0.885) {low $\Omega_\mathrm{m}$,\\low $\sigma_8$};
\end{axis}
\bpanel{at={(302.6pt,325pt)},
  legend style={draw=none, fill=none, at={(0.08,0.6)}, anchor=west, font=\fs, inner sep=0pt},
  legend cell align=left}
\addlegendimage{snn}
\addlegendentry{$z=0$ SNN}
\fan{\tsC}
\addplot[snn] table[y=r]{\tsC};
\node[anchor=north west, inner sep=0pt, font=\fs] at (rel axis cs:0.105,0.95) {fiducial};
\end{axis}
\bpanel{at={(425.4pt,325pt)}}
\fan{\tsD}
\addplot[snn] table[y=r]{\tsD};
\node[anchor=north west, align=left, inner sep=0pt, font=\fs] at (rel axis cs:0.105,0.885) {high $\Omega_\mathrm{m}$,\\high $\sigma_8$};
\end{axis}
\bpanel{at={(548.2pt,325pt)}}
\fan{\tsE}
\addplot[snn] table[y=r]{\tsE};
\node[anchor=north west, align=left, inner sep=0pt, font=\fs] at (rel axis cs:0.105,0.885) {low $\Omega_\mathrm{m}$,\\high $\sigma_8$};
\end{axis}

% ===== Row 2 =====
\bpanel{yticklabels={0.00,0.01,0.02}, at={(57pt,244.5pt)}, ylabel={$\Delta T/T$}}
\fan{\tdA}
\addplot[snn] coordinates {(0.0066,-5.0e-3) (0.01,-2.8e-3) (0.016,-0.2e-3) (0.03,0.2e-3) (0.05,0.3e-3) (0.1,0.5e-3) (0.2,0.9e-3) (0.3,1.4e-3) (0.4,2.0e-3) (0.5,2.6e-3) (0.6,3.3e-3) (0.7,4.2e-3) (0.8,5.2e-3) (0.9,6.3e-3) (1.0,7.5e-3) (1.1,8.8e-3) (1.2,10.2e-3) (1.3,11.5e-3) (1.4,12.3e-3)};
\node[anchor=north west, align=left, inner sep=0pt, font=\fs] at (rel axis cs:0.085,0.915) {$\Omega_\mathrm{m} = 0.4599$\\$\sigma_8 = 0.7011$};
\end{axis}
\bpanel{at={(179.8pt,244.5pt)}}
\fan{\tdB}
\addplot[snn] coordinates {(0.0066,0) (0.01,0.2e-3) (0.02,0.4e-3) (0.03,0.5e-3) (0.05,-0.3e-3) (0.1,-0.4e-3) (0.15,0) (0.2,0.3e-3) (0.3,1.3e-3) (0.4,3.5e-3) (0.5,6.0e-3) (0.6,7.2e-3) (0.7,8.0e-3) (0.8,8.8e-3) (0.9,9.6e-3) (1.0,10.3e-3) (1.1,10.9e-3) (1.2,11.5e-3) (1.3,12.0e-3) (1.4,12.4e-3)};
\node[anchor=north west, align=left, inner sep=0pt, font=\fs] at (rel axis cs:0.085,0.915) {$\Omega_\mathrm{m} = 0.1663$\\$\sigma_8 = 0.6461$};
\end{axis}
\bpanel{at={(302.6pt,244.5pt)}}
\fan{\tdC}
\addplot[snn] coordinates {(0.0066,1.2e-3) (0.01,0.6e-3) (0.016,0.1e-3) (0.03,-0.2e-3) (0.05,-0.3e-3) (0.1,-0.3e-3) (0.2,0.2e-3) (0.3,0.7e-3) (0.4,1.2e-3) (0.5,2.0e-3) (0.6,3.0e-3) (0.7,4.0e-3) (0.8,5.8e-3) (0.9,7.9e-3) (1.0,9.5e-3) (1.1,11.0e-3) (1.2,12.3e-3) (1.3,13.7e-3) (1.4,15.0e-3)};
\node[anchor=north west, align=left, inner sep=0pt, font=\fs] at (rel axis cs:0.085,0.915) {$\Omega_\mathrm{m} = 0.3175$\\$\sigma_8 = 0.8340$};
\end{axis}
\bpanel{at={(425.4pt,244.5pt)}}
\fan{\tdD}
\addplot[snn] coordinates {(0.0066,-1.2e-3) (0.01,-0.8e-3) (0.02,0) (0.05,0.1e-3) (0.1,0.4e-3) (0.15,0.9e-3) (0.2,1.6e-3) (0.3,3.0e-3) (0.4,5.5e-3) (0.5,8.5e-3) (0.6,11.5e-3) (0.7,13.5e-3) (0.8,15.5e-3) (0.9,17.3e-3) (1.0,19.0e-3) (1.1,20.5e-3) (1.2,22.0e-3) (1.3,23.5e-3) (1.4,25.0e-3)};
\node[anchor=north west, align=left, inner sep=0pt, font=\fs] at (rel axis cs:0.085,0.915) {$\Omega_\mathrm{m} = 0.4423$\\$\sigma_8 = 0.9151$};
\end{axis}
\bpanel{at={(548.2pt,244.5pt)}}
\fan{\tdE}
\addplot[snn] coordinates {(0.0066,0) (0.01,-0.1e-3) (0.015,-1.0e-3) (0.02,-2.6e-3) (0.025,-2.8e-3) (0.03,-0.9e-3) (0.037,0.8e-3) (0.045,0.2e-3) (0.055,-1.4e-3) (0.065,-1.8e-3) (0.08,-0.5e-3) (0.1,0) (0.15,0.5e-3) (0.2,1.5e-3) (0.3,4.0e-3) (0.4,6.5e-3) (0.5,8.0e-3) (0.6,9.3e-3) (0.7,10.5e-3) (0.8,11.5e-3) (0.9,11.9e-3) (1.0,11.5e-3) (1.1,10.7e-3) (1.2,9.3e-3) (1.3,7.0e-3) (1.4,4.5e-3)};
\node[anchor=north west, align=left, inner sep=0pt, font=\fs] at (rel axis cs:0.085,0.915) {$\Omega_\mathrm{m} = 0.1289$\\$\sigma_8 = 0.9489$};
\end{axis}

% ===== Row 3 =====
\bpanel{yticklabels={0.00,0.01,0.02}, at={(57pt,164pt)}, ylabel={$s$}}
\fan{\tmA}
\addplot[snn] coordinates {(0.0066,0) (0.2,0) (0.3,0.5e-3) (0.347,1.0e-3) (0.469,4.0e-3) (0.63,9.8e-3) (0.79,18.6e-3) (0.92,24.5e-3) (1.0,29e-3)};
\node[anchor=north west, inner sep=0pt, font=\fs\bfseries] at (rel axis cs:0.125,0.95) {Momentum};
\end{axis}
\bpanel{at={(179.8pt,164pt)}}
\fan{\tmB}
\addplot[snn] coordinates {(0.0066,0) (0.25,0) (0.3,0.3e-3) (0.354,1.0e-3) (0.45,4.5e-3) (0.6,9.8e-3) (0.873,18.6e-3) (1.02,24.5e-3) (1.1,28e-3)};
\end{axis}
\bpanel{at={(302.6pt,164pt)}}
\fan{\tmC}
\addplot[snn] coordinates {(0.0066,0) (0.2,0) (0.25,0.5e-3) (0.3,1.8e-3) (0.364,5.4e-3) (0.45,8.5e-3) (0.53,11.3e-3) (0.664,20e-3) (0.77,24.4e-3) (0.85,28e-3)};
\end{axis}
\bpanel{at={(425.4pt,164pt)}}
\fan{\tmD}
\addplot[snn] coordinates {(0.0066,0) (0.15,0) (0.2,0.8e-3) (0.275,4.0e-3) (0.4,9.8e-3) (0.5,17.1e-3) (0.63,23e-3) (0.7,27e-3)};
\end{axis}
\bpanel{at={(548.2pt,164pt)}}
\fan{\tmE}
\addplot[snn] coordinates {(0.0066,0.7e-3) (0.01,0.9e-3) (0.02,0.5e-3) (0.03,1.0e-3) (0.05,0.6e-3) (0.08,1.0e-3) (0.12,0.8e-3) (0.16,1.2e-3) (0.225,3.2e-3) (0.3,6.0e-3) (0.355,8.4e-3) (0.444,15.6e-3) (0.54,23e-3) (0.6,27e-3)};
\end{axis}

% ===== Row 4 =====
\bpanel{yticklabels={0.00,0.01,0.02}, xticklabel={\xlab}, at={(57pt,83.5pt)}, ylabel={$\Delta T/T$}}
\fan{\tpA}
\addplot[snn] coordinates {(0.0066,-4.0e-3) (0.0087,-1.9e-3) (0.0136,4.7e-3) (0.0214,10.5e-3) (0.03,12.8e-3) (0.039,14.2e-3) (0.05,15.3e-3) (0.065,15.0e-3) (0.077,15.2e-3) (0.1,16.5e-3) (0.121,17.9e-3) (0.15,20.5e-3) (0.19,23.7e-3) (0.22,26e-3)};
\end{axis}
\bpanel{xticklabel={\xlab}, at={(179.8pt,83.5pt)}}
\fan{\tpB}
\addplot[snn] coordinates {(0.0066,4.5e-3) (0.0071,4.7e-3) (0.012,7.6e-3) (0.022,6.0e-3) (0.0345,10.5e-3) (0.045,12.0e-3) (0.063,11.0e-3) (0.085,9.5e-3) (0.12,12.5e-3) (0.155,15.0e-3) (0.2,17.5e-3) (0.283,20.8e-3) (0.354,23.7e-3) (0.42,26e-3)};
\end{axis}
\bpanel{xticklabel={\xlab}, at={(302.6pt,83.5pt)}}
\fan{\tpC}
\addplot[snn] coordinates {(0.0066,9.0e-3) (0.0073,8.4e-3) (0.0114,6.2e-3) (0.0179,5.4e-3) (0.025,6.8e-3) (0.0327,9.1e-3) (0.051,14.2e-3) (0.075,14.2e-3) (0.094,12.7e-3) (0.12,15.3e-3) (0.148,17.9e-3) (0.19,21.5e-3) (0.232,24.5e-3) (0.27,27e-3)};
\end{axis}
\bpanel{xticklabel={\xlab}, at={(425.4pt,83.5pt)}}
\fan{\tpD}
\addplot[snn] coordinates {(0.0066,4.5e-3) (0.0099,5.4e-3) (0.0146,7.6e-3) (0.02,10.0e-3) (0.0288,13.9e-3) (0.036,13.0e-3) (0.0489,14.2e-3) (0.066,17.9e-3) (0.085,19.8e-3) (0.104,21.5e-3) (0.151,24.5e-3) (0.18,26.5e-3)};
\end{axis}
\bpanel{xticklabel={\xlab}, at={(548.2pt,83.5pt)}}
\fan{\tpE}
\addplot[snn] coordinates {(0.0066,0) (0.012,-0.5e-3) (0.016,-3e-3) (0.02,-9e-3) (0.024,-6e-3) (0.03,0) (0.036,5e-3) (0.042,11e-3) (0.046,14.2e-3) (0.05,16.4e-3) (0.055,12e-3) (0.058,8.4e-3) (0.062,4.7e-3) (0.08,5.2e-3) (0.106,6.2e-3) (0.166,9.1e-3) (0.225,13.5e-3) (0.28,18e-3) (0.328,22.3e-3) (0.36,25.5e-3)};
\end{axis}

\pgfresetboundingbox
\path[use as bounding box] (0,0) rectangle (695pt,367pt);
\end{tikzpicture}
\end{document}
